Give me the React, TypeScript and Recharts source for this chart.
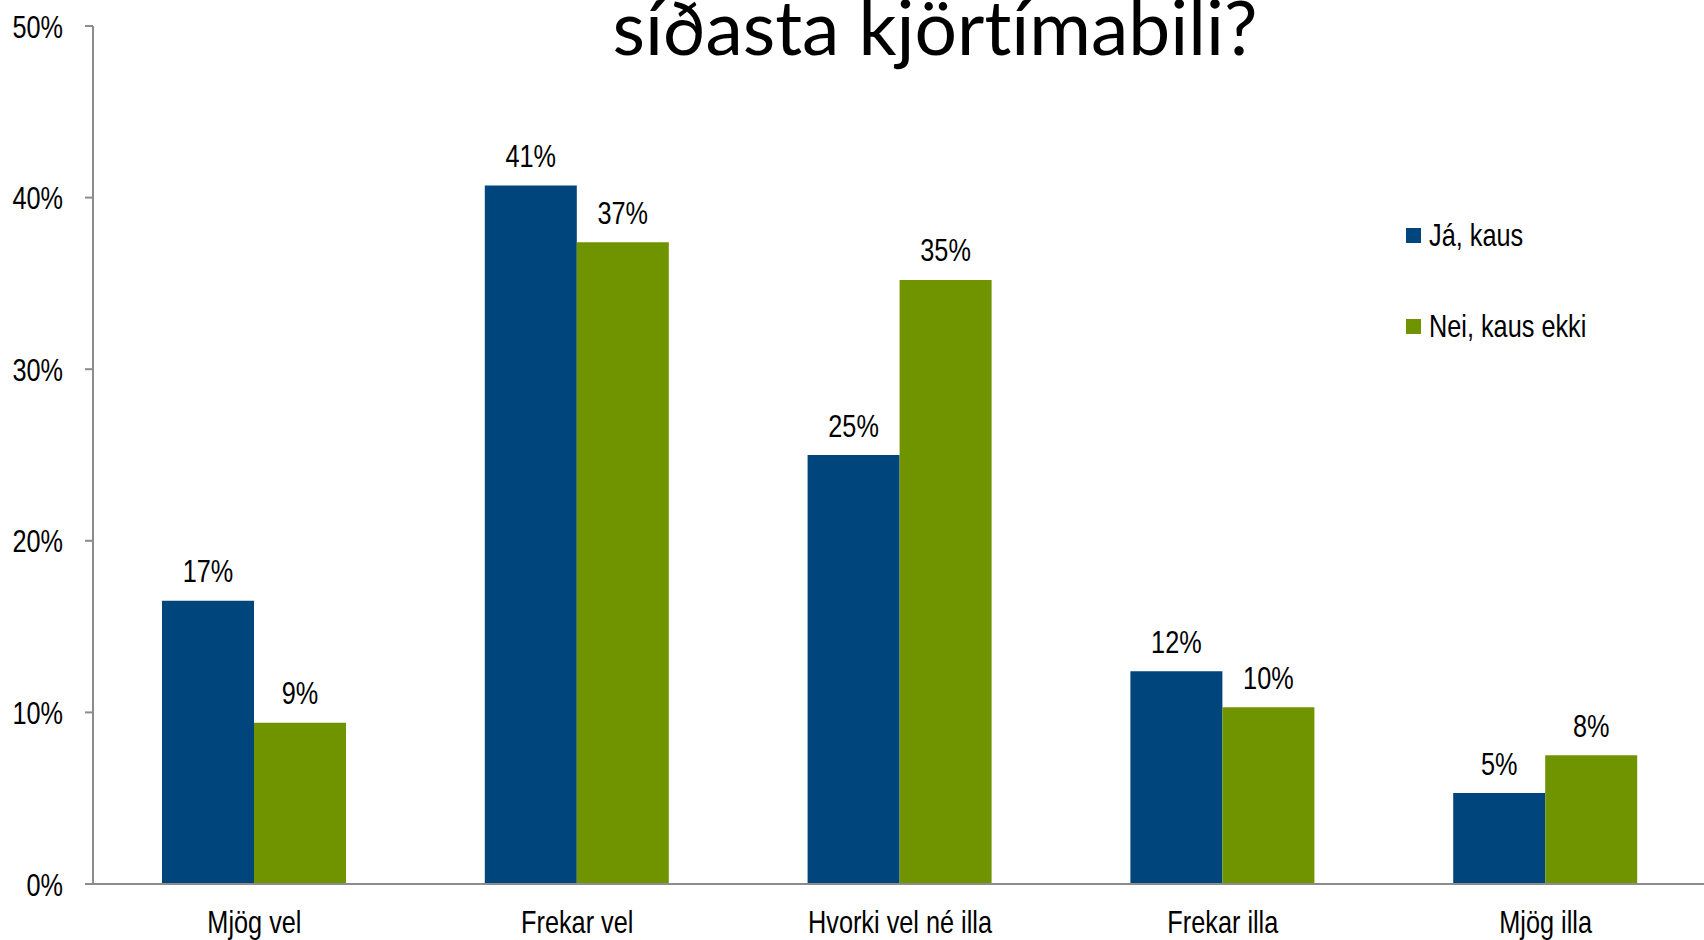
import { BarChart, Bar, XAxis, YAxis, Legend, LabelList } from 'recharts';

const categories = ['Mjög vel', 'Frekar vel', 'Hvorki vel né illa', 'Frekar illa', 'Mjög illa'];
const kaus = [16.5, 40.7, 25.0, 12.4, 5.3];
const kausEkki = [9.4, 37.4, 35.2, 10.3, 7.5];
const seriesNames = ['Já, kaus', 'Nei, kaus ekki'];
const yTicks = [0, 10, 20, 30, 40, 50];
const edgeTicks = [0, 1, 2, 3, 4, 5];

const BLUE = '#00467C';
const GREEN = '#709300';
const AXIS = '#8C8C8C';
const FONT = '"Liberation Sans", Arial, sans-serif';
const FS = 32;
const SQUISH = 0.79; // narrow look of the original font

const data = categories.map((name, i) => ({ name, kaus: kaus[i], kausEkki: kausEkki[i] }));

// text squeezed horizontally around its anchor point
function NarrowText({ x, y, anchor, children }: any) {
  return (
    <g transform={`translate(${x},${y}) scale(${SQUISH},1)`}>
      <text x={0} y={0} textAnchor={anchor} fill="#000" fontSize={FS} fontFamily={FONT}>
        {children}
      </text>
    </g>
  );
}

function YTick({ x, y, payload }: any) {
  return (
    <NarrowText x={x} y={y + FS * 0.36} anchor="end">
      {`${payload.value}%`}
    </NarrowText>
  );
}

function XTick({ x, y, payload }: any) {
  return (
    <NarrowText x={x} y={y + 49} anchor="middle">
      {payload.value}
    </NarrowText>
  );
}

function BarLabel({ x, y, width, value }: any) {
  return (
    <NarrowText x={Number(x) + Number(width) / 2} y={Number(y) - 18.5} anchor="middle">
      {`${Math.round(value)}%`}
    </NarrowText>
  );
}

// legend drawn as two stacked rows
function LegendBox({ payload }: any) {
  return (
    <div style={{ fontFamily: FONT, fontSize: FS, color: '#000' }}>
      {(payload || []).map((p: any) => (
        <div key={p.value} style={{ display: 'flex', alignItems: 'center', height: 91 }}>
          <span style={{ width: 15, height: 15, background: p.color, marginRight: 8, display: 'inline-block', flex: 'none' }} />
          <span style={{ display: 'inline-block', transform: `scaleX(${SQUISH})`, transformOrigin: 'left center', whiteSpace: 'nowrap' }}>
            {p.value}
          </span>
        </div>
      ))}
    </div>
  );
}

export default function App() {
  return (
    <div style={{ position: 'absolute', left: 0, top: 0, width: 1704, height: 940, background: '#fff', overflow: 'hidden' }}>
      {/* title, upper line is off the picture */}
      <div
        style={{
          position: 'absolute',
          left: 0,
          width: 1870,
          top: -19,
          textAlign: 'center',
          fontFamily: 'Lato, sans-serif',
          fontSize: 75,
          lineHeight: '90px',
          fontVariantLigatures: 'none',
          color: '#000',
        }}
      >
        síðasta kjörtímabili?
      </div>
      <BarChart
        width={1704}
        height={940}
        data={data}
        margin={{ top: 26, right: -3, bottom: 0, left: 0 }}
        barGap={0}
      >
        <XAxis
          xAxisId="edges"
          type="number"
          domain={[0, 5]}
          ticks={edgeTicks}
          height={0}
          axisLine={false}
          tickLine={{ stroke: AXIS, strokeWidth: 2 }}
          tickSize={9}
          tick={() => <g />}
        />
        <XAxis
          dataKey="name"
          height={56}
          axisLine={{ stroke: AXIS, strokeWidth: 2 }}
          tickLine={false}
          tickSize={0}
          tickMargin={0}
          interval={0}
          tick={<XTick />}
        />
        <YAxis
          width={93}
          domain={[0, 50]}
          ticks={yTicks}
          interval={0}
          axisLine={{ stroke: AXIS, strokeWidth: 2 }}
          tickLine={{ stroke: AXIS, strokeWidth: 2 }}
          tickSize={8}
          tickMargin={22}
          tick={<YTick />}
        />
        <Legend
          layout="vertical"
          align="center"
          verticalAlign="middle"
          content={<LegendBox />}
          wrapperStyle={{ position: 'absolute', left: 1406, top: 190, width: 290 }}
        />
        <Bar dataKey="kaus" name={seriesNames[0]} fill={BLUE} barSize={92} isAnimationActive={false}>
          <LabelList dataKey="kaus" content={<BarLabel />} />
        </Bar>
        <Bar dataKey="kausEkki" name={seriesNames[1]} fill={GREEN} barSize={92} isAnimationActive={false}>
          <LabelList dataKey="kausEkki" content={<BarLabel />} />
        </Bar>
      </BarChart>
    </div>
  );
}
